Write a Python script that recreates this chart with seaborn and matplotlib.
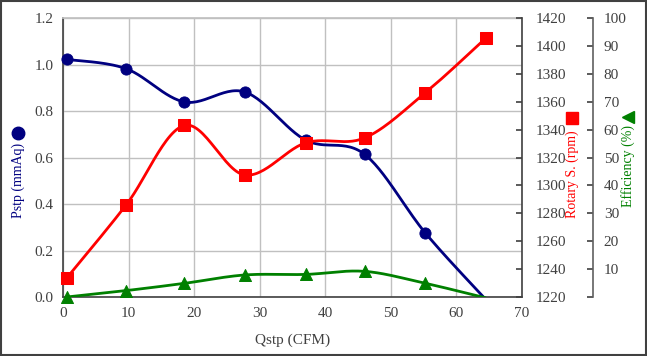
import numpy as np
import pandas as pd
import matplotlib.pyplot as plt
from matplotlib.lines import Line2D
from matplotlib.patches import Rectangle
import seaborn as sns

# data
qstp = [0.5, 9.6, 18.5, 27.7, 37.0, 46.0, 55.3, 64.5]          # CFM
pstp = [1.022, 0.982, 0.839, 0.882, 0.675, 0.614, 0.275, -0.01]  # mmAq
rotary = [1233.5, 1286.0, 1343.0, 1307.5, 1330.5, 1334.0, 1366.5, 1405.5]  # rpm
eff = [0.0, 2.3, 4.9, 7.9, 8.1, 9.2, 4.9, -0.3]                # %

navy, red, green = '#000080', '#ff0000', '#008000'
txt_col = '#404040'

sns.set_theme(style='white')
plt.rcParams['font.family'] = ['Liberation Serif', 'DejaVu Serif']
plt.rcParams['font.size'] = 11


def smooth(x, y, n=30):
    """Excel-like smoothed line (Catmull-Rom) through the points"""
    x = np.asarray(x, float)
    y = np.asarray(y, float)
    px = np.r_[x[0], x, x[-1]]
    py = np.r_[y[0], y, y[-1]]
    t = np.linspace(0, 1, n)[:, None]
    xs, ys = [], []
    for i in range(1, len(px) - 2):
        for arr, out in ((px, xs), (py, ys)):
            p0, p1, p2, p3 = arr[i - 1], arr[i], arr[i + 1], arr[i + 2]
            seg = 0.5 * ((2 * p1) + (-p0 + p2) * t + (2 * p0 - 5 * p1 + 4 * p2 - p3) * t ** 2
                         + (-p0 + 3 * p1 - 3 * p2 + p3) * t ** 3)
            out.append(seg.ravel())
    return np.concatenate(xs), np.concatenate(ys)


df = pd.DataFrame({'q': qstp, 'p': pstp, 'r': rotary, 'e': eff})

fig = plt.figure(figsize=(6.47, 3.56), dpi=100)
ax1 = fig.add_axes([0.0978, 0.1657, 0.7085, 0.7837])
ax2 = ax1.twinx()
ax3 = ax1.twinx()
ax3.spines['right'].set_position(('axes', 1.155))

# Pstp
sx, sy = smooth(df.q, df.p)
ax1.plot(sx, sy, color=navy, lw=2.0, zorder=3)
sns.scatterplot(data=df[df.p >= 0], x='q', y='p', ax=ax1, color=navy, s=65,
                marker='o', edgecolor=navy, zorder=4, clip_on=False)

# Rotary speed
sx, sy = smooth(df.q, df.r)
ax2.plot(sx, sy, color=red, lw=2.0, zorder=3)
sns.scatterplot(data=df, x='q', y='r', ax=ax2, color=red, s=85, marker='s',
                edgecolor=red, zorder=4, clip_on=False)

# Efficiency
sx, sy = smooth(df.q, df.e)
ax3.plot(sx, sy, color=green, lw=2.0, zorder=3)
sns.scatterplot(data=df[df.e >= 0], x='q', y='e', ax=ax3, color=green, s=75,
                marker='^', edgecolor=green, zorder=4, clip_on=False)

ax1.set_xlim(0, 70)
ax1.set_ylim(0, 1.2)
ax1.set_xticks(np.arange(0, 71, 10))
ax1.set_yticks(np.arange(0, 1.21, 0.2))
ax1.set_yticklabels([f'{v:.1f}' for v in np.arange(0, 1.21, 0.2)])
ax1.grid(True, color='#c0c0c0', lw=1.0)
ax1.set_axisbelow(True)
ax1.set_xlabel('Qstp (CFM)', color=txt_col, fontsize=11, labelpad=10)
ax1.set_ylabel('')
for s in ('left', 'bottom'):
    ax1.spines[s].set_color('#404040')
    ax1.spines[s].set_linewidth(1.2)
ax1.spines['top'].set_color('#c0c0c0')
ax1.spines['right'].set_visible(False)
ax1.tick_params(colors=txt_col, labelsize=11, length=0, pad=7)

ax2.set_ylim(1220, 1420)
ax2.set_yticks(np.arange(1220, 1421, 20))
ax2.set_ylabel('')
ax2.spines['right'].set_color('#404040')
ax2.spines['right'].set_linewidth(1.2)
for s in ('left', 'top', 'bottom'):
    ax2.spines[s].set_visible(False)
ax2.tick_params(axis='y', colors=txt_col, labelsize=11, direction='in', length=4,
                width=1.2, pad=10)

ax3.set_ylim(0, 100)
ax3.set_yticks(np.arange(0, 101, 10))
ax3.set_yticklabels([''] + [str(v) for v in range(10, 101, 10)])
ax3.set_ylabel('')
ax3.spines['right'].set_color('#606060')
ax3.spines['right'].set_linewidth(1.2)
for s in ('left', 'top', 'bottom'):
    ax3.spines[s].set_visible(False)
ax3.tick_params(axis='y', colors=txt_col, labelsize=11, direction='in', length=4,
                width=1.2, pad=8)

# axis titles with their marker glyphs
fig.text(0.0278, 0.598, 'Pstp (mmAq)', rotation=90, ha='center', va='top',
         color=navy, fontsize=10)
fig.text(0.884, 0.635, 'Rotary S. (rpm)', rotation=90, ha='center', va='top',
         color=red, fontsize=10)
fig.text(0.971, 0.649, 'Efficiency (%)', rotation=90, ha='center', va='top',
         color=green, fontsize=10)
fig.add_artist(Line2D([0.0278], [0.626], marker='o', ms=9, color=navy,
                      transform=fig.transFigure))
fig.add_artist(Line2D([0.884], [0.668], marker='s', ms=9, color=red,
                      transform=fig.transFigure))
fig.add_artist(Line2D([0.971], [0.671], marker='<', ms=9, color=green,
                      transform=fig.transFigure))

# chart area border
fig.add_artist(Rectangle((0.001, 0.002), 0.997, 0.995, transform=fig.transFigure,
                         fill=False, edgecolor='#404040', lw=1.5))

fig.savefig('out.png', dpi=100)
